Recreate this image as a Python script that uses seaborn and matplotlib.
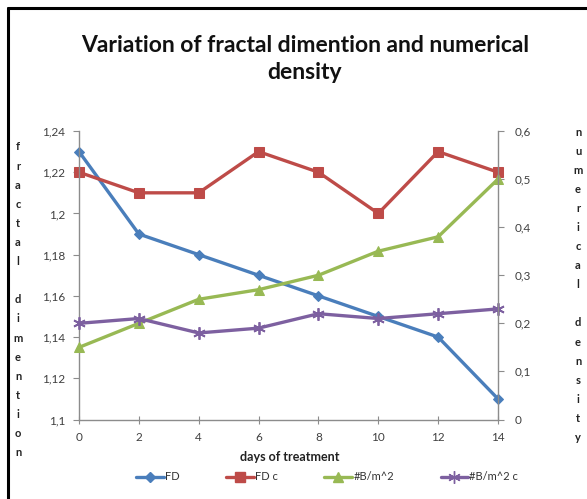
import matplotlib
matplotlib.use("Agg")
import matplotlib.pyplot as plt
from matplotlib.lines import Line2D
import seaborn as sns
import pandas as pd

days = [0, 2, 4, 6, 8, 10, 12, 14]
fd = [1.23, 1.19, 1.18, 1.17, 1.16, 1.15, 1.14, 1.11]
fd_c = [1.22, 1.21, 1.21, 1.23, 1.22, 1.20, 1.23, 1.22]
nb = [0.15, 0.20, 0.25, 0.27, 0.30, 0.35, 0.38, 0.50]
nb_c = [0.20, 0.21, 0.18, 0.19, 0.22, 0.21, 0.22, 0.23]

left_ticks = [1.10, 1.12, 1.14, 1.16, 1.18, 1.20, 1.22, 1.24]
left_labels = ["1,1", "1,12", "1,14", "1,16", "1,18", "1,2", "1,22", "1,24"]
right_ticks = [0, 0.1, 0.2, 0.3, 0.4, 0.5, 0.6]
right_labels = ["0", "0,1", "0,2", "0,3", "0,4", "0,5", "0,6"]
x_ticks = [0, 2, 4, 6, 8, 10, 12, 14]

title = "Variation of fractal dimention and numerical\ndensity"
left_title = "fractal dimention"
right_title = "numerical density"
x_title = "days of treatment"
series_names = ["FD", "FD c", "#B/m^2", "#B/m^2 c"]

sns.set_theme(style="white")
plt.rcParams["font.family"] = ["Lato", "DejaVu Sans"]

W, H = 587, 499
fig = plt.figure(figsize=(W / 100, H / 100), dpi=100)
fig.patch.set_facecolor("white")

ax = fig.add_axes([79 / W, 1 - 419.5 / H, 419 / W, 288.5 / H])
ax2 = ax.twinx()

colors = ["#4A7EBB", "#BE4B48", "#98B954", "#7D60A0"]
lw = 2.4
ms = 6

df = pd.DataFrame({"days": days, "fd": fd, "fd_c": fd_c, "nb": nb, "nb_c": nb_c})

sns.lineplot(data=df, x="days", y="fd", ax=ax, color=colors[0], marker="D",
             markersize=ms - 0.5, linewidth=lw, markeredgecolor=colors[0])
sns.lineplot(data=df, x="days", y="fd_c", ax=ax, color=colors[1], marker="s",
             markersize=ms + 1, linewidth=lw, markeredgecolor=colors[1])
sns.lineplot(data=df, x="days", y="nb", ax=ax2, color=colors[2], marker="^",
             markersize=ms + 1, linewidth=lw, markeredgecolor=colors[2])
sns.lineplot(data=df, x="days", y="nb_c", ax=ax2, color=colors[3], marker=(6, 2, 0),
             markersize=ms + 3, linewidth=lw, markeredgecolor=colors[3],
             markeredgewidth=1.3)

ax.set_xlim(0, 14)
ax.set_ylim(1.10, 1.24)
ax2.set_ylim(0, 0.6)
ax.set_xlabel("")
ax.set_ylabel("")
ax2.set_ylabel("")

spine_c = "#8C8C8C"
for a in (ax, ax2):
    a.spines["top"].set_visible(False)
    for s in ("left", "right", "bottom"):
        a.spines[s].set_color(spine_c)
        a.spines[s].set_linewidth(1.0)
ax.spines["right"].set_visible(False)
ax2.spines["left"].set_visible(False)
ax2.spines["bottom"].set_visible(False)

tick_font = dict(fontsize=8.5, color="#404040")
ax.set_yticks(left_ticks)
ax.set_yticklabels(left_labels, **tick_font)
ax2.set_yticks(right_ticks)
ax2.set_yticklabels(right_labels, **tick_font)
ax.set_xticks(x_ticks)
ax.set_xticklabels([str(v) for v in x_ticks], **tick_font)
ax.tick_params(axis="y", direction="out", length=4, width=0.8, color=spine_c, pad=6, left=True)
ax.tick_params(axis="x", direction="inout", length=6, width=0.8, color=spine_c, pad=6, bottom=True)
ax2.tick_params(axis="y", direction="out", length=4, width=0.8, color=spine_c, pad=8, right=True)

for line in ax.get_lines() + ax2.get_lines():
    line.set_clip_on(False)

fig.text(305 / W, 1 - 59 / H, title, ha="center", va="center", fontsize=16.5,
         fontweight="bold", color="#111111", linespacing=1.3)

fig.text(290 / W, 1 - 457 / H, x_title, ha="center", va="center", fontsize=9,
         fontweight="bold", color="#222222")

step = 19.1
for i, ch in enumerate(left_title):
    fig.text(18 / W, 1 - (147 + i * step) / H, ch, ha="center", va="center",
             fontsize=8, fontweight="bold", color="#222222")
for i, ch in enumerate(right_title):
    fig.text(578 / W, 1 - (132 + i * step) / H, ch, ha="center", va="center",
             fontsize=8, fontweight="bold", color="#222222")

markers = ["D", "s", "^", (6, 2, 0)]
sizes = [ms - 0.5, ms + 1, ms + 1, ms + 3]
handles = [Line2D([0], [0], color=c, marker=m, markersize=s, linewidth=lw,
                  markeredgecolor=c) for c, m, s in zip(colors, markers, sizes)]
fig.legend(handles, series_names, loc="center", bbox_to_anchor=(327 / W, 1 - 477 / H),
           ncol=4, frameon=False, fontsize=8, handlelength=2.5, handletextpad=0.1,
           columnspacing=4.2, labelcolor="#333333")

fig.add_artist(Line2D([8 / W, 8 / W], [0, 1 - 8 / H], transform=fig.transFigure,
                      color="black", linewidth=2.2))
fig.add_artist(Line2D([8 / W, 1], [1 - 8 / H, 1 - 8 / H], transform=fig.transFigure,
                      color="black", linewidth=2.2))

fig.savefig("out.png", dpi=100, facecolor="white")
